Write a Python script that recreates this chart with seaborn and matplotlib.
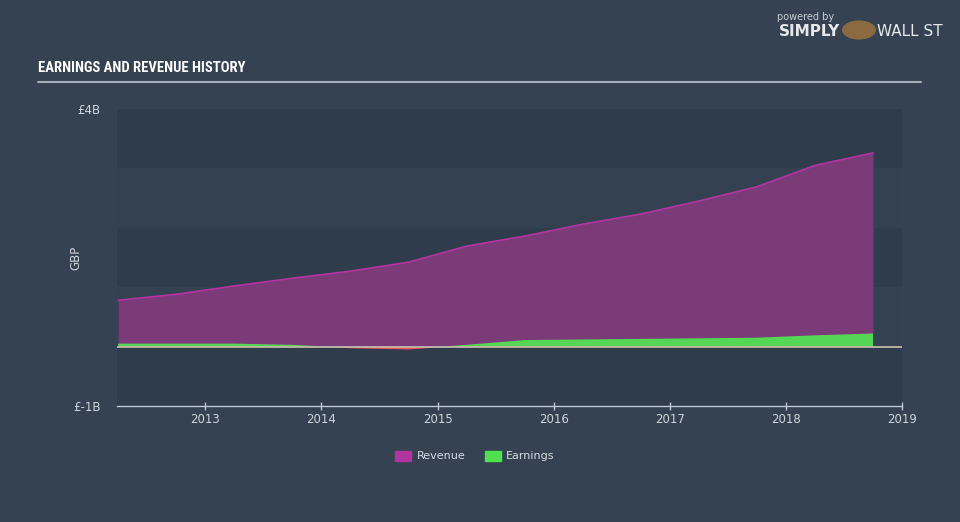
import numpy as np
import pandas as pd
import matplotlib
matplotlib.use("Agg")
import matplotlib.pyplot as plt
from matplotlib import font_manager
from matplotlib.patches import Patch, Circle
import seaborn as sns

# ---- data (GBP billions) ----
dates = [2012.25, 2012.75, 2013.25, 2013.75, 2014.25, 2014.75, 2015.25,
         2015.75, 2016.25, 2016.75, 2017.25, 2017.75, 2018.25, 2018.75]
revenue = [0.78, 0.88, 1.02, 1.15, 1.27, 1.42, 1.69,
           1.86, 2.06, 2.23, 2.45, 2.69, 3.05, 3.26]
earnings = [0.05, 0.05, 0.05, 0.03, -0.02, -0.04, 0.03,
            0.11, 0.12, 0.13, 0.14, 0.15, 0.19, 0.22]
year_ticks = [2013, 2014, 2015, 2016, 2017, 2018, 2019]
y_tick_vals = [-1, 4]
y_tick_labels = ["£-1B", "£4B"]
series_names = ["Revenue", "Earnings"]

df = pd.DataFrame({"date": dates, "Revenue": revenue, "Earnings": earnings})

BG = "#344251"
sns.set_theme(style="dark")
plt.rcParams["font.family"] = ["DejaVu Sans"]

avail = {f.name for f in font_manager.fontManager.ttflist}
title_font = "DejaVu Sans"
for cand in ["Liberation Sans Narrow", "DejaVu Sans Condensed", "Roboto Condensed"]:
    if cand in avail:
        title_font = cand
        break

fig = plt.figure(figsize=(9.6, 5.22), dpi=100, facecolor=BG)
ax = fig.add_axes([117/960, 1-406/522, (902-117)/960, (406-109)/522])
ax.set_facecolor(BG)

ax.set_xlim(2012.24, 2019.0)
ax.set_ylim(-1, 4)

# background bands
band_cols = ["#2f3c4b", "#334150", "#2f3c4b", "#334150", "#2f3c4b"]
for i, lo in enumerate([3, 2, 1, 0, -1]):
    ax.axhspan(lo, lo + 1, color=band_cols[i], lw=0, zorder=0)

x = np.array(df["date"])
rev = np.array(df["Revenue"])
ear = np.array(df["Earnings"])

ax.fill_between(x, 0, rev, color="#7b3a78", lw=0, zorder=2)
sns.lineplot(x=x, y=rev, ax=ax, color="#b0359f", lw=1.3, zorder=3)
ax.fill_between(x, 0, ear, where=ear >= 0, interpolate=True, color="#55d655", lw=0, zorder=4)
ax.fill_between(x, 0, ear, where=ear < 0, interpolate=True, color="#e8525a", lw=0, zorder=4)

ax.axhline(0, color="#c9c2ad", lw=1.2, zorder=5)

# axes styling
for s in ["top", "right", "left"]:
    ax.spines[s].set_visible(False)
ax.spines["bottom"].set_color("#c0c8d0")
ax.spines["bottom"].set_linewidth(1)
ax.set_xticks(year_ticks)
ax.set_xticklabels([str(y) for y in year_ticks])
ax.tick_params(axis="x", colors="#c0c8d0", labelcolor="#d0d4d8", labelsize=8.5,
               length=6, width=1, direction="inout", bottom=True, pad=2)
ax.set_yticks(y_tick_vals)
ax.set_yticklabels(y_tick_labels)
ax.tick_params(axis="y", length=0, labelcolor="#d0d4d8", labelsize=8.5, pad=12)
ax.set_ylabel("GBP", color="#d0d4d8", fontsize=8.5)
ax.yaxis.set_label_coords(-0.044, 0.5)
ax.set_xlabel("")
ax.grid(False)

# title and rule
fig.text(38/960, 1-68/522, "EARNINGS AND REVENUE HISTORY", color="white",
         fontsize=10.5, fontweight="bold", family=title_font, va="center", ha="left")
fig.add_artist(plt.Line2D([38/960, 921/960], [1-81.5/522, 1-81.5/522],
                          color="#a6adb5", lw=1.5))

# branding
fig.text(806/960, 1-17/522, "powered by", color="#c8ccd0", fontsize=7, ha="center", va="center")
fig.text(810/960, 1-32/522, "SIMPLY", color="#e6e8ea", fontsize=11, fontweight="bold",
         ha="center", va="center")
fig.text(910/960, 1-32/522, "WALL ST", color="#e6e8ea", fontsize=11,
         ha="center", va="center")
fig.add_artist(Circle((859/960, 1-30/522), 0.017, transform=fig.transFigure,
                      color="#8a6a40", zorder=3))

# legend
handles = [Patch(color="#b0359f", label=series_names[0]),
           Patch(color="#4fe04f", label=series_names[1])]
leg = fig.legend(handles=handles, loc="center", bbox_to_anchor=(475/960, 1-456/522),
                 ncol=2, frameon=False, fontsize=8, handlelength=1.4, handleheight=1.0,
                 columnspacing=1.8, handletextpad=0.5)
for t in leg.get_texts():
    t.set_color("#d6dade")

fig.savefig("out.png", dpi=100, facecolor=BG)
